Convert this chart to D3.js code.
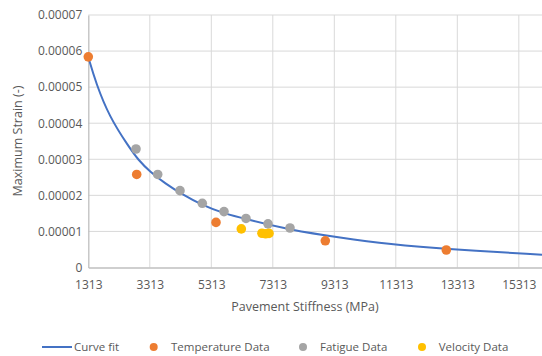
<!DOCTYPE html>
<html>
<head>
<meta charset="utf-8">
<script src="https://cdn.jsdelivr.net/npm/d3@7"></script>
<style>
  body { margin: 0; background: #fff; }
  text { font-family: "Open Sans", "Noto Sans", sans-serif; }
</style>
</head>
<body>
<div class="canvas"></div>
<script>
// data
const curveX = [1313, 1563, 1996, 2627, 2939, 3320, 3807, 4402, 5001, 5703, 6464, 7873, 9499, 11125, 12968, 16067]
const curveY = [5.83e-5, 5.107e-5, 4.181e-5, 3.349e-5, 2.98e-5, 2.656e-5, 2.334e-5, 2.01e-5, 1.733e-5, 1.503e-5, 1.336e-5, 1.04e-5, 0.826e-5, 0.643e-5, 0.505e-5, 0.355e-5]

const tempX = [1313, 2887, 5466, 9020, 12955]
const tempY = [5.84e-5, 2.58e-5, 1.25e-5, 0.74e-5, 0.485e-5]

const fatigueX = [2864, 3570, 4295, 5020, 5726, 6441, 7157, 7872]
const fatigueY = [3.285e-5, 2.58e-5, 2.13e-5, 1.78e-5, 1.55e-5, 1.36e-5, 1.21e-5, 1.095e-5]

const velocityX = [6289, 6960, 7080, 7190]
const velocityY = [1.07e-5, 0.95e-5, 0.935e-5, 0.945e-5]

const xTicks = [1313, 3313, 5313, 7313, 9313, 11313, 13313, 15313]
const yTicks = [0, 0.00001, 0.00002, 0.00003, 0.00004, 0.00005, 0.00006, 0.00007]
const yTickLabels = ['0', '0.00001', '0.00002', '0.00003', '0.00004', '0.00005', '0.00006', '0.00007']

const legendNames = ['Curve fit', 'Temperature Data', 'Fatigue Data', 'Velocity Data']
const colours = {curve: '#4472C4', temp: '#ED7D31', fatigue: '#A5A5A5', velocity: '#FFC000'}

const width = 542
const height = 356

const svg = d3.select('.canvas')
                .append('svg')
                .attr('width', width)
                .attr('height', height)

// plot box
const plotLeft = 88.3
const plotRight = 542
const plotTop = 15
const plotBottom = 267.5

//scales
const x = d3.scaleLinear()
            .domain([1313, 16067])
            .range([plotLeft, plotRight])
const y = d3.scaleLinear()
            .domain([0, 0.00007])
            .range([plotBottom, plotTop])

// gridlines
const grid = svg.append('g')
grid.selectAll('line.h')
    .data(yTicks.slice(1))
    .enter().append('line')
    .attr('class', 'h')
    .attr('x1', plotLeft).attr('x2', plotRight)
    .attr('y1', d => y(d)).attr('y2', d => y(d))
    .attr('stroke', '#d9d9d9')
    .attr('stroke-width', 1)
grid.selectAll('line.v')
    .data(xTicks.slice(1))
    .enter().append('line')
    .attr('class', 'v')
    .attr('x1', d => x(d)).attr('x2', d => x(d))
    .attr('y1', plotTop).attr('y2', plotBottom)
    .attr('stroke', '#d9d9d9')
    .attr('stroke-width', 1)

//axes
const xAxis = d3.axisBottom(x)
                .tickValues(xTicks)
                .tickSize(0)
                .tickPadding(13)
                .tickFormat(d => d)
const yAxis = d3.axisLeft(y)
                .tickValues(yTicks)
                .tickSize(0)
                .tickPadding(6)
                .tickFormat((d, i) => yTickLabels[i])

const xAxisGroup = svg.append('g')
                        .attr('transform', `translate(0, ${plotBottom})`)
                        .call(xAxis)
const yAxisGroup = svg.append('g')
                        .attr('transform', `translate(${plotLeft}, 0)`)
                        .call(yAxis)

xAxisGroup.select('.domain').attr('stroke', '#bfbfbf').attr('stroke-width', 1.3)
yAxisGroup.select('.domain').attr('stroke', '#bfbfbf').attr('stroke-width', 1.3)
svg.selectAll('.tick text')
    .attr('fill', '#595959')
    .style('font-size', '12px')
    .style('font-family', '"Open Sans", sans-serif')

// axis titles
svg.append('text')
    .attr('x', 305)
    .attr('y', 311)
    .attr('text-anchor', 'middle')
    .attr('fill', '#595959')
    .style('font-size', '12.5px')
    .text('Pavement Stiffness (MPa)')
svg.append('text')
    .attr('transform', 'translate(22, 141) rotate(-90)')
    .attr('text-anchor', 'middle')
    .attr('fill', '#595959')
    .style('font-size', '12.5px')
    .text('Maximum Strain (-)')

// curve fit line
const line = d3.line()
                .x(d => x(d[0]))
                .y(d => y(d[1]))
                .curve(d3.curveBasis)
svg.append('path')
    .datum(d3.zip(curveX, curveY))
    .attr('d', line)
    .attr('fill', 'none')
    .attr('stroke', colours.curve)
    .attr('stroke-width', 2)

// scatter series
const drawPoints = (xs, ys, colour) => {
    svg.append('g')
        .selectAll('circle')
        .data(d3.zip(xs, ys))
        .enter().append('circle')
        .attr('cx', d => x(d[0]))
        .attr('cy', d => y(d[1]))
        .attr('r', 4.8)
        .attr('fill', colour)
}
drawPoints(fatigueX, fatigueY, colours.fatigue)
drawPoints(velocityX, velocityY, colours.velocity)
drawPoints(tempX, tempY, colours.temp)

// legend
const legendY = 347
const legend = svg.append('g')
legend.append('line')
    .attr('x1', 42).attr('x2', 72)
    .attr('y1', legendY).attr('y2', legendY)
    .attr('stroke', colours.curve)
    .attr('stroke-width', 2)
const legendMarkers = [[153.7, colours.temp], [303, colours.fatigue], [422, colours.velocity]]
legend.selectAll('circle')
    .data(legendMarkers)
    .enter().append('circle')
    .attr('cx', d => d[0])
    .attr('cy', legendY)
    .attr('r', 4)
    .attr('fill', d => d[1])
const legendTextX = [74, 171, 320, 438.7]
legend.selectAll('text')
    .data(legendNames)
    .enter().append('text')
    .attr('x', (d, i) => legendTextX[i])
    .attr('y', legendY)
    .attr('dy', '0.35em')
    .attr('fill', '#595959')
    .style('font-size', '11.5px')
    .text(d => d)
</script>
</body>
</html>
